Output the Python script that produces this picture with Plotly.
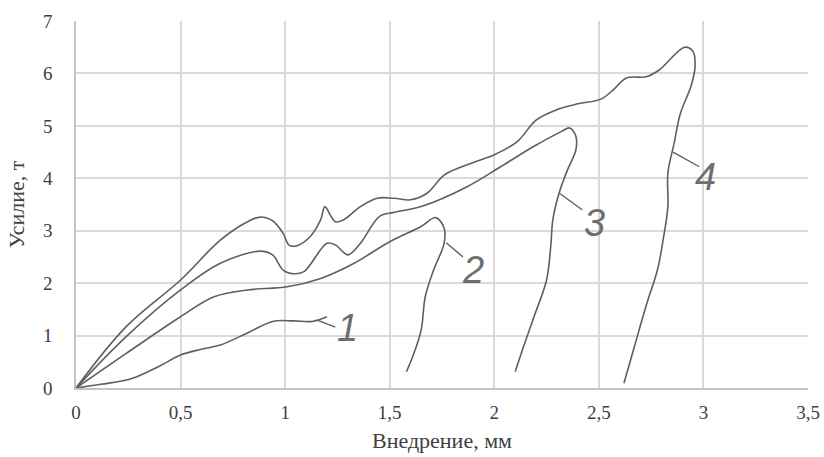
import plotly.graph_objects as go

# Curve data (Внедрение, мм ; Усилие, т)
x1 = [0, 0.12, 0.26, 0.40, 0.50, 0.60, 0.69, 0.82, 0.94, 1.04, 1.13, 1.20]
y1 = [0, 0.07, 0.17, 0.42, 0.63, 0.74, 0.82, 1.05, 1.27, 1.28, 1.27, 1.36]

x2 = [0, 0.24, 0.50, 0.66, 0.82, 1.01, 1.17, 1.33, 1.50, 1.65, 1.72, 1.76, 1.76, 1.71, 1.67, 1.65, 1.61, 1.58]
y2 = [0, 0.66, 1.36, 1.74, 1.87, 1.93, 2.09, 2.38, 2.79, 3.08, 3.25, 3.05, 2.76, 2.25, 1.74, 1.10, 0.60, 0.31]

x3 = [0, 0.24, 0.50, 0.69, 0.88, 0.94, 0.99, 1.04, 1.09, 1.20, 1.24, 1.30, 1.36, 1.45, 1.52, 1.65, 1.87,
      2.03, 2.19, 2.32, 2.36, 2.39, 2.39, 2.35, 2.31, 2.28, 2.27, 2.25, 2.19, 2.14, 2.10]
y3 = [0, 0.98, 1.87, 2.38, 2.61, 2.54, 2.25, 2.18, 2.22, 2.76, 2.73, 2.54, 2.76, 3.27, 3.35, 3.46, 3.84,
      4.22, 4.61, 4.89, 4.96, 4.80, 4.54, 4.16, 3.72, 3.21, 2.70, 2.06, 1.36, 0.79, 0.31]

x4 = [0, 0.24, 0.50, 0.69, 0.82, 0.88, 0.94, 0.99, 1.02, 1.06, 1.12, 1.17, 1.19, 1.22, 1.24, 1.28, 1.36,
      1.44, 1.52, 1.60, 1.68, 1.76, 1.87, 2.00, 2.11, 2.20, 2.30, 2.40, 2.51, 2.57, 2.63, 2.73, 2.79,
      2.91, 2.95, 2.96, 2.94, 2.89, 2.86, 2.83, 2.83, 2.81, 2.78, 2.73, 2.67, 2.62]
y4 = [0, 1.17, 2.06, 2.82, 3.17, 3.26, 3.19, 2.95, 2.72, 2.72, 2.89, 3.21, 3.46, 3.27, 3.17, 3.21, 3.46,
      3.62, 3.62, 3.59, 3.72, 4.06, 4.26, 4.45, 4.70, 5.11, 5.31, 5.42, 5.51, 5.69, 5.91, 5.94, 6.07,
      6.50, 6.42, 6.13, 5.75, 5.24, 4.67, 4.10, 3.46, 2.89, 2.25, 1.62, 0.79, 0.09]

# Curve labels and leader lines
label_text = ["1", "2", "3", "4"]
label_x = [1.30, 1.90, 2.48, 3.01]
label_y = [1.14, 2.25, 3.14, 4.02]
lead_x = [[1.15, 1.24], [1.77, 1.85], [2.31, 2.42], [2.855, 2.98]]
lead_y = [[1.30, 1.16], [2.77, 2.50], [3.72, 3.40], [4.50, 4.22]]

x_ticks = [0, 0.5, 1, 1.5, 2, 2.5, 3, 3.5]
x_tick_text = ["0", "0,5", "1", "1,5", "2", "2,5", "3", "3,5"]
y_ticks = [0, 1, 2, 3, 4, 5, 6, 7]

line_color = "#5f5f5f"

fig = go.Figure()
for xs, ys in [(x1, y1), (x2, y2), (x3, y3), (x4, y4)]:
    fig.add_trace(go.Scatter(x=xs, y=ys, mode="lines",
                             line=dict(color=line_color, width=1.6, shape="spline", smoothing=1.0),
                             showlegend=False, hoverinfo="skip"))
for lx, ly in zip(lead_x, lead_y):
    fig.add_trace(go.Scatter(x=lx, y=ly, mode="lines",
                             line=dict(color=line_color, width=1.4),
                             showlegend=False, hoverinfo="skip"))

for t, lx, ly in zip(label_text, label_x, label_y):
    fig.add_annotation(x=lx, y=ly, text=t, showarrow=False, xanchor="center", yanchor="middle",
                       font=dict(family="Liberation Sans, Arial", size=38, color="#6e6e6e", style="italic"))

tick_font = dict(family="Liberation Serif, Times New Roman", size=19, color="#404040")
title_font = dict(family="Liberation Serif, Times New Roman", size=22, color="#404040")

fig.update_layout(
    width=824, height=457,
    margin=dict(l=76, r=16, t=21, b=69, autoexpand=False),
    paper_bgcolor="white", plot_bgcolor="white",
    xaxis=dict(range=[0, 3.5], tickvals=x_ticks, ticktext=x_tick_text, automargin=False,
               showgrid=True, gridcolor="#dadada", gridwidth=1.5,
               showline=True, linecolor="#c4c4c4", linewidth=1.5,
               zeroline=False, ticks="", tickfont=tick_font, ticklabelstandoff=6,
               title=dict(text="Внедрение, мм", font=title_font, standoff=11)),
    yaxis=dict(range=[0, 7], tickvals=y_ticks, automargin=False,
               showgrid=True, gridcolor="#dadada", gridwidth=1.5,
               showline=True, linecolor="#c4c4c4", linewidth=1.5,
               zeroline=False, ticks="", tickfont=tick_font, ticklabelstandoff=18,
               title=dict(text="Усилие, т", font=title_font, standoff=12)),
)

fig.write_html("out.html")
